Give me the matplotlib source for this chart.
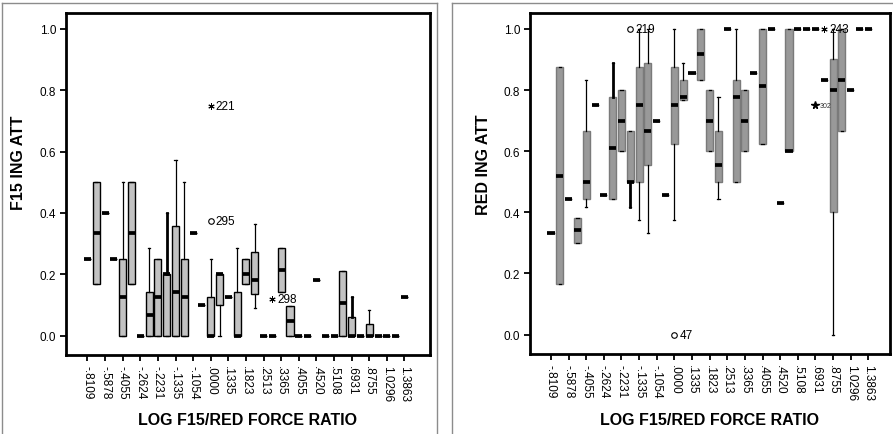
import numpy as np
import matplotlib
matplotlib.use("Agg")
import matplotlib.pyplot as plt
from matplotlib.lines import Line2D

plt.rcParams['font.family'] = ['Liberation Sans', 'DejaVu Sans']

# ratio categories (only every other one gets a label on the axis)
ratio_labels = ['-.8109', '-.5878', '-.4055', '-.2624', '-.2231', '-.1335', '-.1054',
                '.0000', '.1335', '.1823', '.2513', '.3365', '.4055', '.4520', '.5108',
                '.6931', '.8755', '1.0296', '1.3863']
n_cat = 37

# F15 ingestion attempts: whisker low, q1, median, q3, whisker high per category
f15_lo  = [.25, .167, .4, .25, 0, .167, 0, 0, 0, 0, 0, 0, .333, .1, 0, 0, .125, 0, .167,
           .091, 0, 0, .143, 0, 0, 0, .182, 0, 0, 0, 0, 0, 0, 0, 0, 0, .125]
f15_q1  = [.25, .167, .4, .25, 0, .167, 0, 0, 0, 0, 0, 0, .333, .1, 0, .1, .125, 0, .167,
           .136, 0, 0, .143, 0, 0, 0, .182, 0, 0, 0, 0, 0, 0, 0, 0, 0, .125]
f15_med = [.25, .333, .4, .25, .125, .333, 0, .067, .125, .2, .143, .125, .333, .1, 0, .2,
           .125, 0, .2, .182, 0, 0, .214, .048, 0, 0, .182, 0, 0, .105, 0, 0, 0, 0, 0, 0, .125]
f15_q3  = [.25, .5, .4, .25, .25, .5, 0, .143, .25, .2, .357, .25, .333, .1, .125, .2,
           .125, .143, .25, .273, 0, 0, .286, .095, 0, 0, .182, 0, 0, .211, .059, 0, .037,
           0, 0, 0, .125]
f15_hi  = [.25, .5, .4, .25, .5, .5, 0, .286, .25, .4, .571, .5, .333, .1, .25, .2,
           .125, .286, .25, .364, 0, 0, .286, .095, 0, 0, .182, 0, 0, .211, .125, 0, .083,
           0, 0, 0, .125]
f15_out_cat = [14, 14, 21]
f15_out_val = [.375, .75, .12]
f15_out_id  = ['295', '221', '298']
f15_out_kind = ['o', '*', '*']

# RED ingestion attempts
red_lo  = [.333, .167, .444, .3, .417, .75, .458, .444, .6, .417, .375, .333, .7, .455,
           .375, .769, .857, .833, .6, .444, 1, .5, .6, .857, .625, 1, .429, .6, 1, 1, 1,
           .833, 0, .667, .8, 1, 1]
red_q1  = [.333, .167, .444, .3, .444, .75, .458, .444, .6, .5, .5, .556, .7, .455,
           .625, .769, .857, .833, .6, .5, 1, .5, .6, .857, .625, 1, .429, .6, 1, 1, 1,
           .833, .4, .667, .8, 1, 1]
red_med = [.333, .52, .444, .342, .5, .75, .458, .611, .7, .5, .75, .667, .7, .455,
           .75, .778, .857, .917, .7, .556, 1, .778, .7, .857, .8125, 1, .429, .6, 1, 1, 1,
           .833, .8, .833, .8, 1, 1]
red_q3  = [.333, .875, .444, .38, .667, .75, .458, .778, .8, .667, .875, .889, .7, .455,
           .875, .833, .857, 1, .8, .667, 1, .833, .8, .857, 1, 1, .429, 1, 1, 1, 1,
           .833, .9, 1, .8, 1, 1]
red_hi  = [.333, .875, .444, .38, .833, .75, .458, .889, .8, .667, 1, 1, .7, .455,
           1, .889, .857, 1, .8, .778, 1, 1, .8, .857, 1, 1, .429, 1, 1, 1, 1,
           .833, 1, 1, .8, 1, 1]
red_out_cat = [9, 14, 30, 31]
red_out_val = [1.0, 0.0, .75, 1.0]
red_out_id  = ['219', '47', '302', '243']
red_out_kind = ['o', 'o', 'star', '*']

fig = plt.figure(figsize=(8.93, 4.35), dpi=100)
W, H = 893.0, 435.0


def panel(rect, lo, q1, med, q3, hi, face, edge, thick, out_cat, out_val, out_id, out_kind):
    ax = fig.add_axes(rect)
    stats = [dict(whislo=lo[i], q1=q1[i], med=med[i], q3=q3[i], whishi=hi[i], fliers=[])
             for i in range(n_cat)]
    bp = ax.bxp(stats, positions=range(n_cat), widths=0.8, patch_artist=True,
                showfliers=False, capwidths=0.25,
                boxprops=dict(facecolor=face, edgecolor=edge, linewidth=1),
                medianprops=dict(color='black', linewidth=2.7, solid_capstyle='butt'),
                whiskerprops=dict(color='black', linewidth=0.9),
                capprops=dict(color='black', linewidth=0.9))
    for i in thick:
        for w in bp['whiskers'][2 * i:2 * i + 2]:
            w.set_linewidth(2)
    for c, v, lab, k in zip(out_cat, out_val, out_id, out_kind):
        if k == 'o':
            ax.plot(c, v, 'o', ms=4, mfc='white', mec='black', mew=0.8, clip_on=False)
            ax.text(c + 0.55, v, lab, fontsize=8.5, va='center', ha='left')
        elif k == '*':
            ax.plot(c, v, marker=(6, 2, 0), ms=4.5, color='black', mew=0.7, clip_on=False)
            ax.text(c + 0.55, v, lab, fontsize=8.5, va='center', ha='left')
        else:
            ax.plot(c, v, marker='*', ms=5.5, color='black', clip_on=False)
            ax.text(c + 0.45, v, lab, fontsize=5, va='center', ha='left', color='#333333')
    ax.set_ylim(-0.0636, 1.052)
    ax.set_yticks([0, .2, .4, .6, .8, 1.0])
    ax.set_yticklabels(['0.0', '0.2', '0.4', '0.6', '0.8', '1.0'])
    ax.set_xticks(range(0, n_cat, 2))
    ax.set_xticklabels(ratio_labels, rotation=270, va='top', ha='center')
    ax.tick_params(direction='out', length=4, width=1.3, labelsize=8.5, pad=3)
    for s in ax.spines.values():
        s.set_linewidth(2)
    return ax


ax1 = panel([66 / W, 79 / H, 364 / W, 342 / H], f15_lo, f15_q1, f15_med, f15_q3, f15_hi,
            '#c2c2c2', 'black', [9, 30], f15_out_cat, f15_out_val, f15_out_id, f15_out_kind)
ax1.set_xlim(-2.44, 38.9)

ax2 = panel([530 / W, 80 / H, 360 / W, 341 / H], red_lo, red_q1, red_med, red_q3, red_hi,
            '#999999', '#7a7a7a', [7, 9], red_out_cat, red_out_val, red_out_id, red_out_kind)
ax2.set_xlim(-2.38, 38.46)

fig.text(248 / W, 1 - 421 / H, 'LOG F15/RED FORCE RATIO', fontsize=11.5, fontweight='bold',
         ha='center', va='center')
fig.text(710 / W, 1 - 421 / H, 'LOG F15/RED FORCE RATIO', fontsize=11.5, fontweight='bold',
         ha='center', va='center')
fig.text(18.5 / W, 1 - 163 / H, 'F15 ING ATT', fontsize=11.5, fontweight='bold',
         rotation=90, ha='center', va='center')
fig.text(484 / W, 1 - 165 / H, 'RED ING ATT', fontsize=11.5, fontweight='bold',
         rotation=90, ha='center', va='center')

# thin grey frames around each chart
def px_line(x0, y0, x1, y1):
    fig.add_artist(Line2D([x0 / W, x1 / W], [1 - y0 / H, 1 - y1 / H], color='#8c8c8c', lw=1))

px_line(2, 4, 437, 4)
px_line(2, 4, 2, 435)
px_line(437, 4, 437, 435)
px_line(452, 4, 893, 4)
px_line(452, 4, 452, 435)

fig.savefig('out.png', dpi=100)
